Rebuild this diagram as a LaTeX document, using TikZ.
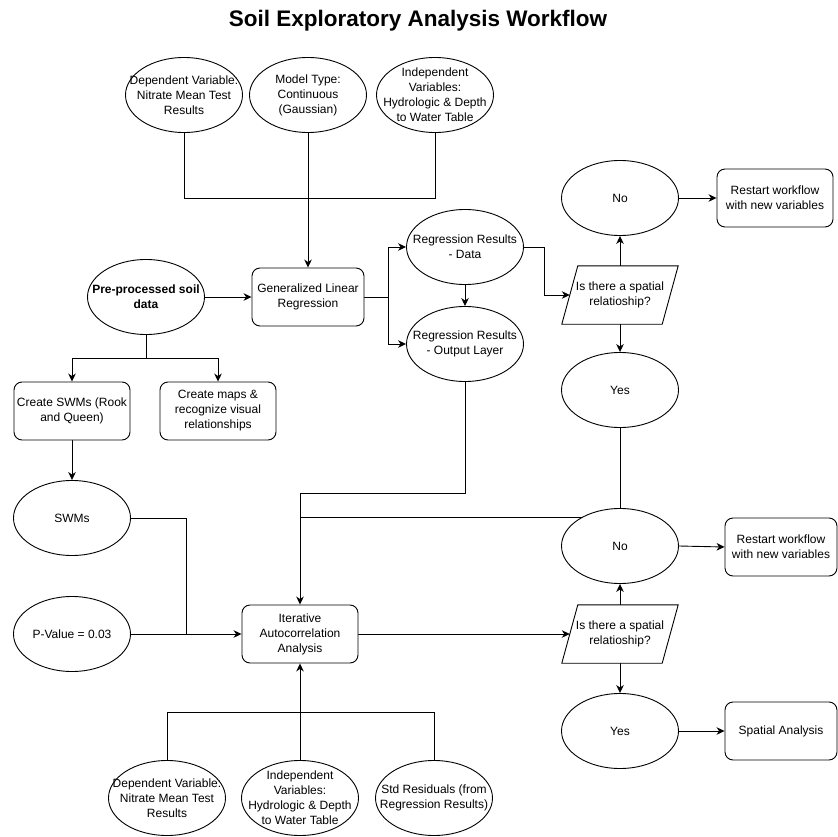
\documentclass[tikz,border=0pt]{standalone}
\usepackage{fontspec}
\setmainfont{Liberation Sans}
\usetikzlibrary{arrows.meta,backgrounds,shapes.geometric}
\begin{document}
\begin{tikzpicture}[x=1pt,y=-1pt,
  txt/.style={font=\fontsize{12}{15}\selectfont, align=center},
  oval/.style={ellipse, draw, fill=white, line width=0.9pt, minimum width=117pt, minimum height=75pt, inner sep=0pt},
  lbl/.style={txt, inner sep=0pt},
  box/.style={draw, line width=0.9pt, rounded corners=8pt, fill=white, minimum width=116pt, minimum height=58pt, inner sep=0pt, txt},
  para/.style={minimum width=116pt, minimum height=58pt, inner sep=0pt, txt},
  line/.style={draw, line width=0.9pt},
  arr/.style={line, -{Stealth[length=8pt,width=7.5pt,inset=2.5pt]}},
]
\useasboundingbox (0,0) rectangle (838,837);

\node[font=\fontsize{22.5}{26}\selectfont\bfseries] (title) at (418,21) {Soil Exploratory Analysis Workflow};

% top inputs
\node[oval, label={[lbl]center:{Dependent Variable:\\Nitrate Mean Test\\Results}}] (e1) at (184,95) {};
\node[oval, label={[lbl]center:{Model Type:\\Continuous\\(Gaussian)}}] (e2) at (308,95) {};
\node[oval, label={[lbl]center:{Independent\\Variables:\\Hydrologic \& Depth\\to Water Table}}] (e3) at (435,95) {};

\node[box, minimum width=112pt] (glr) at (308,297) {Generalized Linear\\Regression};
\node[oval, label={[lbl]center:{\bfseries Pre-processed soil\\\bfseries data}}] (pre) at (146,297) {};

\node[oval, label={[lbl]center:{Regression Results\\- Data}}] (rd) at (465,247) {};
\node[oval, label={[lbl]center:{Regression Results\\- Output Layer}}] (ro) at (465,344) {};

\node[box] (swm) at (72,411) {Create SWMs (Rook\\and Queen)};
\node[box] (map) at (218,411) {Create maps \&\\recognize visual\\relationships};

\node[oval, label={[lbl]center:{SWMs}}] (swms) at (72,518) {};
\node[oval, label={[lbl]center:{P-Value = 0.03}}] (pv) at (72,634) {};
\coordinate (j1) at (186,634);

\node[box] (iter) at (300,634) {Iterative\\Autocorrelation\\Analysis};

% upper decision
\node[para] (p1) at (620,295) {};
\draw[line width=0.9pt, fill=white] ([xshift=16pt]p1.north west) -- (p1.north east) -- ([xshift=-16pt]p1.south east) -- (p1.south west) -- cycle;
\node[txt] at (p1.center) {Is there a spatial\\relatioship?};
\node[oval, label={[lbl]center:{No}}] (no1) at (620,198) {};
\node[box] (rs1) at (775,198) {Restart workflow\\with new variables};
\node[oval, label={[lbl]center:{Yes}}] (yes1) at (620,390) {};

% lower decision
\node[para] (p2) at (620,634) {};
\draw[line width=0.9pt, fill=white] ([xshift=16pt]p2.north west) -- (p2.north east) -- ([xshift=-16pt]p2.south east) -- (p2.south west) -- cycle;
\node[txt] at (p2.center) {Is there a spatial\\relatioship?};
\node[oval, label={[lbl]center:{No}}] (no2) at (620,546) {};
\node[box, minimum width=112pt] (rs2) at (781,547) {Restart workflow\\with new variables};
\node[oval, label={[lbl]center:{Yes}}] (yes2) at (620,731) {};
\node[box, minimum width=112pt] (sa) at (781,731) {Spatial Analysis};
\coordinate (j2) at (300,517);

% bottom inputs
\node[oval, label={[lbl]center:{Dependent Variable:\\Nitrate Mean Test\\Results}}] (b1) at (167,798) {};
\node[oval, label={[lbl]center:{Independent\\Variables:\\Hydrologic \& Depth\\to Water Table}}] (b2) at (300,798) {};
\node[oval, label={[lbl]center:{Std Residuals (from\\Regression Results)}}] (b3) at (434,798) {};

\begin{scope}[on background layer]
  \draw[line] (e1.south) -- ++(0,66) -| (e3.south);
  \draw[arr] (e2.south) -- (glr.north);
  \draw[arr] (pre.east) -- (glr.west);
  \draw[arr] (glr.east) -- ++(24,0) |- (rd.west);
  \draw[arr] (glr.east) -- ++(24,0) |- (ro.west);
  \draw[arr] (rd.south) -- (ro.north);
  \draw[arr] (rd.east) -- ++(20,0) |- ([xshift=8pt]p1.west);
  \draw[arr] (p1.north) -- (no1.south);
  \draw[arr] (p1.south) -- (yes1.north);
  \draw[arr] (no1.east) -- (rs1.west);
  \draw[arr] (pre.south) -- ++(0,23) -| (swm.north);
  \draw[arr] (pre.south) -- ++(0,23) -| (map.north);
  \draw[arr] (swm.south) -- (swms.north);
  \draw[line] (swms.east) -| (j1);
  \draw[arr] (pv.east) -- (iter.west);
  \draw[arr] (ro.south) -- ++(0,111) -| (iter.north);
  \draw[line] (yes1.south) |- (j2);
  \draw[arr] (iter.east) -- ([xshift=8pt]p2.west);
  \draw[arr] (p2.north) -- (no2.south);
  \draw[arr] (p2.south) -- (yes2.north);
  \draw[arr] (no2.east) -- (rs2.west);
  \draw[arr] (yes2.east) -- (sa.west);
  \draw[line] (b1.north) -- ++(0,-48) -| (b3.north);
  \draw[arr] (b2.north) -- (iter.south);
\end{scope}
\end{tikzpicture}
\end{document}
